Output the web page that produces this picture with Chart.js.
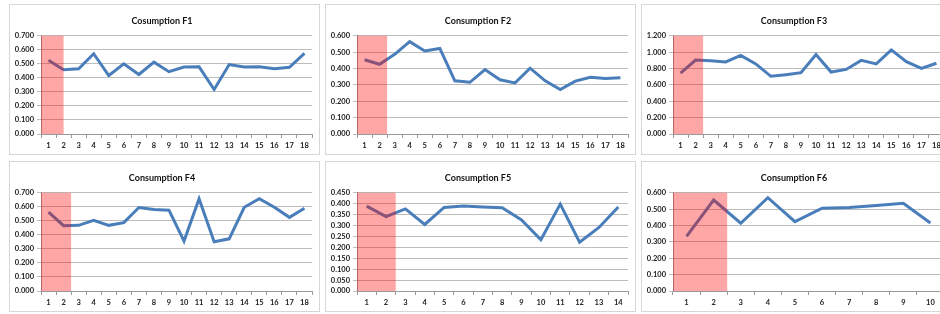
<!DOCTYPE html>
<html>
<head>
<meta charset="utf-8">
<script src="https://cdn.jsdelivr.net/npm/chart.js@4.4.1/dist/chart.umd.min.js"></script>
<style>
  html, body { margin: 0; padding: 0; background: #fff; overflow: hidden; width: 940px; height: 314px; }
  .panel { position: absolute; width: 309px; height: 149px; border: 1px solid #d6d6d6; background: #fff; }
  #p1 { left: 9px;   top: 4px; }
  #p2 { left: 325px; top: 4px; }
  #p3 { left: 641px; top: 4px; }
  #p4 { left: 9px;   top: 161px; }
  #p5 { left: 325px; top: 161px; }
  #p6 { left: 641px; top: 161px; }
</style>
</head>
<body>
<div class="panel" id="p1"><canvas id="c1"></canvas></div>
<div class="panel" id="p2"><canvas id="c2"></canvas></div>
<div class="panel" id="p3"><canvas id="c3"></canvas></div>
<div class="panel" id="p4"><canvas id="c4"></canvas></div>
<div class="panel" id="p5"><canvas id="c5"></canvas></div>
<div class="panel" id="p6"><canvas id="c6"></canvas></div>
<script>
// Data
const titles = ["Cosumption F1", "Consumption F2", "Consumption F3", "Consumption F4", "Consumption F5", "Consumption F6"];

const labels18 = ["1", "2", "3", "4", "5", "6", "7", "8", "9", "10", "11", "12", "13", "14", "15", "16", "17", "18"];
const labels14 = ["1", "2", "3", "4", "5", "6", "7", "8", "9", "10", "11", "12", "13", "14"];
const labels10 = ["1", "2", "3", "4", "5", "6", "7", "8", "9", "10"];

const f1 = [0.525, 0.458, 0.465, 0.572, 0.417, 0.500, 0.424, 0.512, 0.444, 0.477, 0.479, 0.317, 0.495, 0.477, 0.479, 0.465, 0.475, 0.574];
const f2 = [0.454, 0.426, 0.487, 0.564, 0.507, 0.523, 0.325, 0.316, 0.394, 0.331, 0.312, 0.402, 0.325, 0.272, 0.323, 0.347, 0.339, 0.343];
const f3 = [0.745, 0.904, 0.896, 0.880, 0.960, 0.857, 0.705, 0.725, 0.749, 0.972, 0.757, 0.789, 0.900, 0.857, 1.028, 0.884, 0.801, 0.865];
const f4 = [0.562, 0.466, 0.468, 0.504, 0.468, 0.487, 0.595, 0.581, 0.576, 0.356, 0.658, 0.351, 0.372, 0.597, 0.658, 0.597, 0.525, 0.590];
const f5 = [0.389, 0.341, 0.376, 0.305, 0.383, 0.389, 0.385, 0.382, 0.326, 0.235, 0.398, 0.224, 0.291, 0.385];
const f6 = [0.334, 0.556, 0.414, 0.570, 0.424, 0.506, 0.510, 0.522, 0.536, 0.416];

const yMax  = [0.7, 0.6, 1.2, 0.7, 0.45, 0.6];
const yStep = [0.1, 0.1, 0.2, 0.1, 0.05, 0.1];
// red band runs from the start of the axis to this category position (0 = first)
const bandEnds = [1, 1.5, 1.5, 1.5, 1.5, 1.5];

const charts = [
    { labels: labels18, values: f1 },
    { labels: labels18, values: f2 },
    { labels: labels18, values: f3 },
    { labels: labels18, values: f4 },
    { labels: labels14, values: f5 },
    { labels: labels10, values: f6 }
];

const FONT = "Lato, 'Open Sans', sans-serif";

// semi-transparent red band drawn on top of the line
const bandPlugin = {
    id: 'band',
    afterDatasetsDraw(chart, args, opts) {
        const { ctx, chartArea, scales } = chart;
        const x0 = chartArea.left;
        const x1 = scales.x.getPixelForValue(opts.end);
        const yTop = scales.y.getPixelForValue(opts.top);
        ctx.save();
        ctx.fillStyle = 'rgba(255, 0, 0, 0.35)';
        ctx.fillRect(x0, yTop, x1 - x0, chartArea.bottom - yTop);
        ctx.restore();
    }
};

charts.forEach((c, i) => {
    new Chart(document.getElementById('c' + (i + 1)), {
        type: 'line',
        data: {
            labels: c.labels,
            datasets: [{
                data: c.values,
                borderColor: '#4a7ebb',
                borderWidth: 3,
                pointRadius: 0,
                tension: 0,
                fill: false
            }]
        },
        options: {
            responsive: true,
            maintainAspectRatio: false,
            animation: false,
            layout: {
                padding: { left: 2, right: 7, top: 0, bottom: 1 }
            },
            plugins: {
                legend: { display: false },
                tooltip: { enabled: false },
                title: {
                    display: true,
                    text: titles[i],
                    color: '#111',
                    font: { family: FONT, size: 9, weight: 'bold' },
                    padding: { top: 11, bottom: 9 }
                },
                band: { end: bandEnds[i], top: yMax[i] }
            },
            scales: {
                x: {
                    offset: true,
                    grid: {
                        display: true,
                        offset: true,
                        drawOnChartArea: false,
                        color: '#9a9a9a',
                        tickLength: 4
                    },
                    border: { color: '#9a9a9a' },
                    ticks: {
                        color: '#222',
                        font: { family: FONT, size: 7.5, weight: 'bold' },
                        padding: 3,
                        maxRotation: 0,
                        autoSkip: false
                    }
                },
                y: {
                    min: 0,
                    max: yMax[i],
                    afterFit: (scale) => { scale.width = 29; },
                    grid: {
                        color: '#bdbdbd',
                        tickLength: 4
                    },
                    border: { color: '#9a9a9a' },
                    ticks: {
                        stepSize: yStep[i],
                        autoSkip: false,
                        color: '#222',
                        font: { family: FONT, size: 7.5, weight: 'bold' },
                        padding: 3,
                        callback: (v) => v.toFixed(3)
                    }
                }
            }
        },
        plugins: [bandPlugin]
    });
});
</script>
</body>
</html>
